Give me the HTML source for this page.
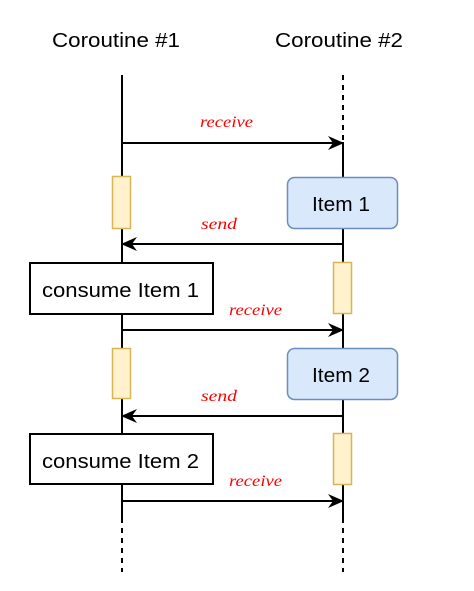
<!DOCTYPE html>
<html><head><meta charset="utf-8"><style>
html,body{margin:0;padding:0;background:#fff;}
svg{display:block;}
</style></head><body>
<svg width="474" height="591" viewBox="0 0 474 591" xmlns="http://www.w3.org/2000/svg">
<defs>
<marker id="ar" markerWidth="16" markerHeight="14" refX="15" refY="7" orient="auto" markerUnits="userSpaceOnUse">
<path d="M0,0 L16,7 L0,14 L5,7 Z" fill="#000"/>
</marker>
</defs>
<g font-family="Liberation Sans, sans-serif" font-size="20" fill="#000">
<text x="52" y="47" textLength="128" lengthAdjust="spacingAndGlyphs">Coroutine #1</text>
<text x="275" y="47" textLength="128" lengthAdjust="spacingAndGlyphs">Coroutine #2</text>
</g>
<g stroke="#000" stroke-width="2" fill="none">
<line x1="122" y1="75" x2="122" y2="518"/>
<line x1="122" y1="518" x2="122" y2="572" stroke-dasharray="5,5"/>
<line x1="343" y1="75" x2="343" y2="142" stroke-dasharray="5,5"/>
<line x1="343" y1="142" x2="343" y2="518"/>
<line x1="343" y1="518" x2="343" y2="572" stroke-dasharray="5,5"/>
</g>
<g stroke="#000" stroke-width="2" fill="none">
<line x1="122" y1="143" x2="343" y2="143" marker-end="url(#ar)"/>
<line x1="343" y1="244" x2="122" y2="244" marker-end="url(#ar)"/>
<line x1="122" y1="330" x2="343" y2="330" marker-end="url(#ar)"/>
<line x1="343" y1="416" x2="122" y2="416" marker-end="url(#ar)"/>
<line x1="122" y1="501" x2="343" y2="501" marker-end="url(#ar)"/>
</g>
<g fill="#fff2cc" stroke="#d6b656" stroke-width="1.5">
<rect x="112.5" y="176.5" width="18" height="52"/>
<rect x="333.5" y="262.5" width="18" height="51"/>
<rect x="112.5" y="348.5" width="18" height="50"/>
<rect x="333.5" y="433.5" width="18" height="51"/>
</g>
<g fill="#dae8fc" stroke="#6c8ebf" stroke-width="1.5">
<rect x="287.5" y="177.5" width="110" height="51" rx="7"/>
<rect x="287.5" y="348.5" width="110" height="51" rx="7"/>
</g>
<g font-family="Liberation Sans, sans-serif" font-size="20" fill="#000">
<text x="312" y="211" textLength="58" lengthAdjust="spacingAndGlyphs">Item 1</text>
<text x="312" y="382" textLength="58" lengthAdjust="spacingAndGlyphs">Item 2</text>
</g>
<g fill="#fff" stroke="#000" stroke-width="2">
<rect x="30" y="263" width="183" height="51"/>
<rect x="30" y="434" width="183" height="50"/>
</g>
<g font-family="Liberation Sans, sans-serif" font-size="20" fill="#000">
<text x="42" y="297" textLength="157" lengthAdjust="spacingAndGlyphs">consume Item 1</text>
<text x="42" y="468" textLength="157" lengthAdjust="spacingAndGlyphs">consume Item 2</text>
</g>
<g font-family="Liberation Serif, serif" font-style="italic" font-size="16" fill="#ff0000">
<text x="200" y="127" textLength="53" lengthAdjust="spacingAndGlyphs">receive</text>
<text x="201" y="229" textLength="36" lengthAdjust="spacingAndGlyphs">send</text>
<text x="229" y="315" textLength="53" lengthAdjust="spacingAndGlyphs">receive</text>
<text x="201" y="401" textLength="36" lengthAdjust="spacingAndGlyphs">send</text>
<text x="229" y="486" textLength="53" lengthAdjust="spacingAndGlyphs">receive</text>
</g>
</svg>
</body></html>
